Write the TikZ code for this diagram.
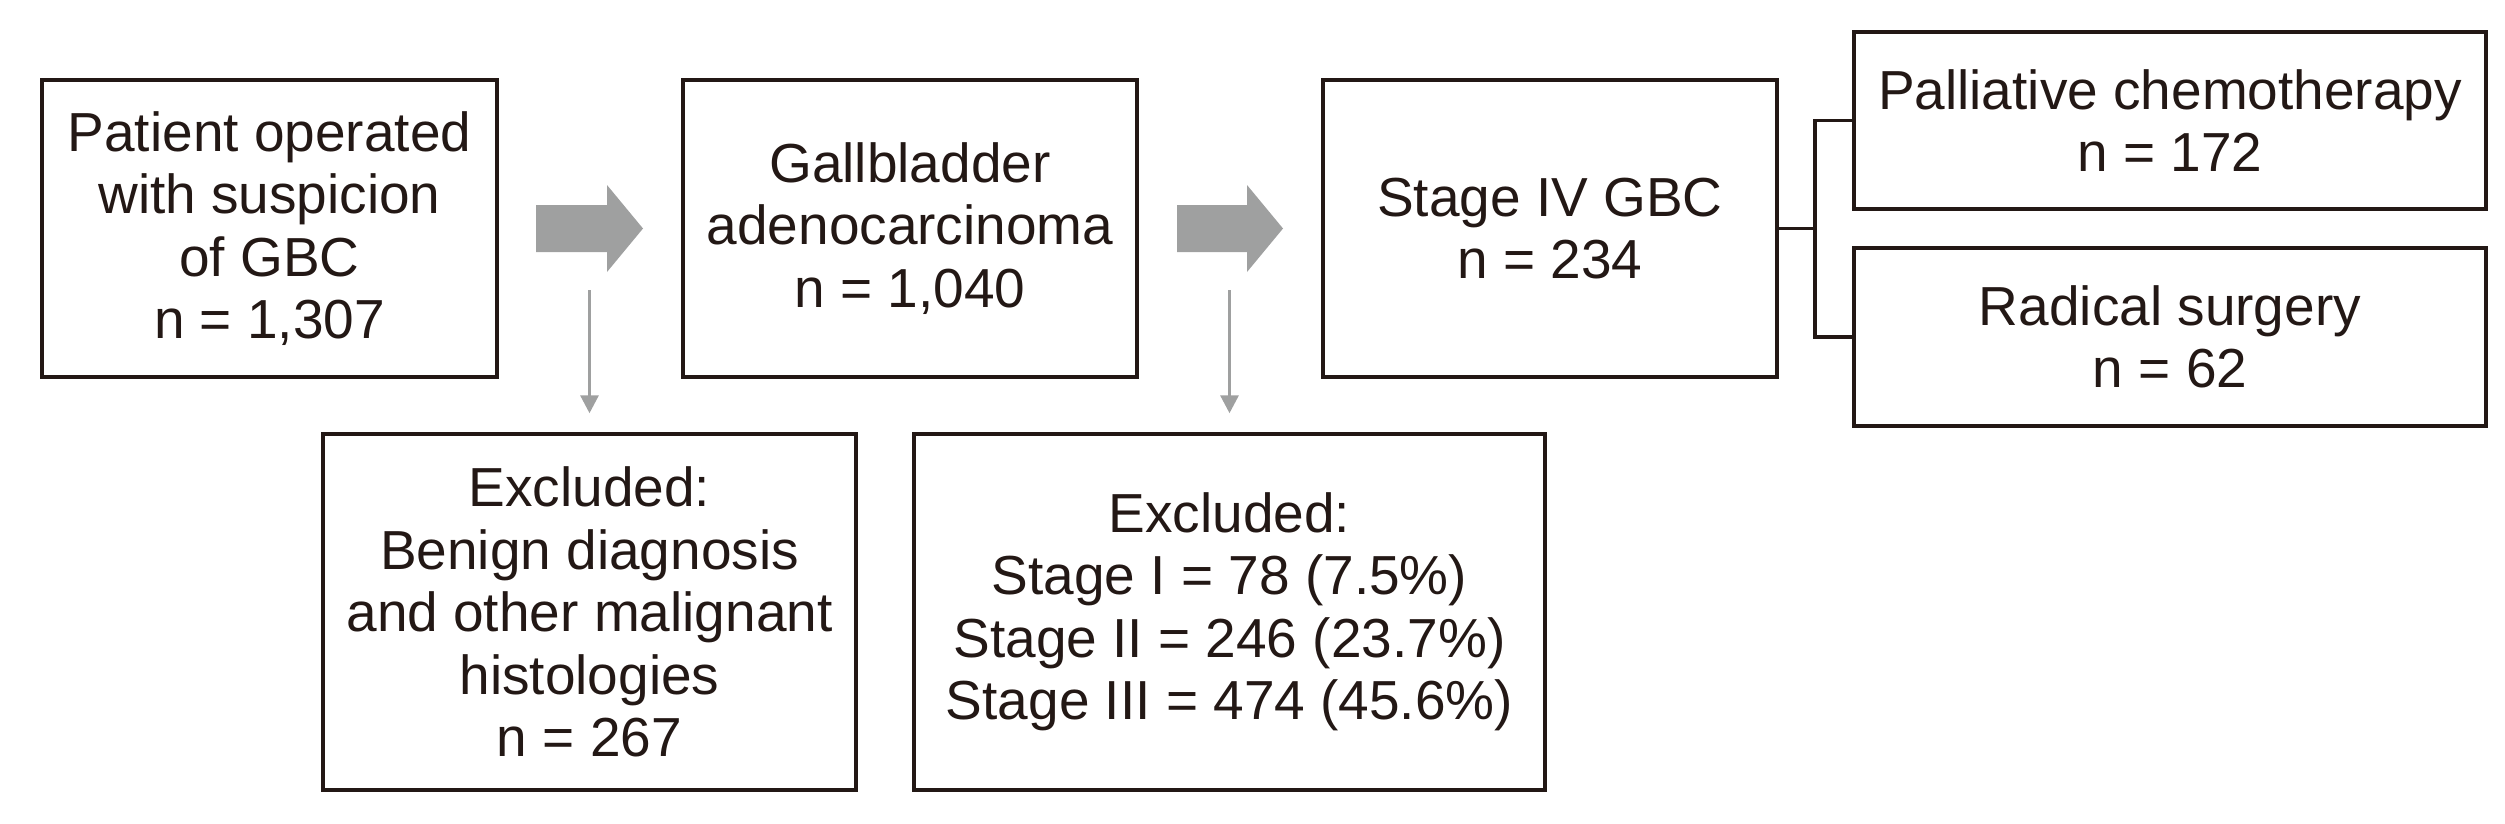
\documentclass[tikz,border=0pt]{standalone}
\usepackage{fontspec}
\setmainfont{Liberation Sans}
\usetikzlibrary{arrows.meta}
\definecolor{ink}{HTML}{231815}
\definecolor{arrowgray}{HTML}{9FA0A0}
\begin{document}
\begin{tikzpicture}[x=1pt,y=-1pt,
  box/.style={draw=ink,line width=3.5pt,rectangle,inner sep=0pt,align=center,text=ink,
    font=\fontsize{55}{62.5}\selectfont},
  conn/.style={draw=ink,line width=3.5pt},
  thinarrow/.style={draw=arrowgray,line width=3.2pt,-{Triangle[width=18pt,length=18pt]},shorten >=19pt},
  bigarrow/.style={fill=arrowgray,draw=none}]
\useasboundingbox (0,0) rectangle (2505,823);
\node[box,minimum width=455pt,minimum height=297pt] (b1) at (269.5,228.5)
  {Patient operated\\with suspicion\\of GBC\\n = 1,307};
\node[box,minimum width=454pt,minimum height=297pt] (b2) at (910,228.5)
  {Gallbladder\\adenocarcinoma\\n = 1,040};
\node[box,minimum width=454pt,minimum height=297pt] (b3) at (1550,228.5)
  {Stage IV GBC\\n = 234};
\node[box,minimum width=632pt,minimum height=177pt] (b4) at (2170,120.5)
  {Palliative chemotherapy\\n = 172};
\node[box,minimum width=632pt,minimum height=178pt] (b5) at (2170,337)
  {Radical surgery\\n = 62};
\node[box,minimum width=533pt,minimum height=356pt] (b6) at (589.5,612)
  {Excluded:\\Benign diagnosis\\and other malignant\\histologies\\n = 267};
\node[box,minimum width=631pt,minimum height=356pt] (b7) at (1229.5,612)
  {Excluded:\\Stage I = 78 (7.5\%)\\Stage II = 246 (23.7\%)\\Stage III = 474 (45.6\%)};
% big arrows
\fill[bigarrow] (536,205) -- (607,205) -- (607,185) -- (643,228.5) -- (607,272) -- (607,252) -- (536,252) -- cycle;
\fill[bigarrow] (1177,205) -- (1247,205) -- (1247,185) -- (1283,228.5) -- (1247,272) -- (1247,252) -- (1177,252) -- cycle;
% thin arrows
\coordinate (s1) at (589.5,290);
\coordinate (s2) at (1229.5,290);
\draw[thinarrow] (s1) -- (b6.north);
\draw[thinarrow] (s2) -- (b7.north);
% branch connector
\coordinate (j) at (1815,228.5);
\draw[conn] (b3.east) -- (j);
\draw[conn] (j) |- (b4.west);
\draw[conn] (j) |- (b5.west);
\end{tikzpicture}
\end{document}
